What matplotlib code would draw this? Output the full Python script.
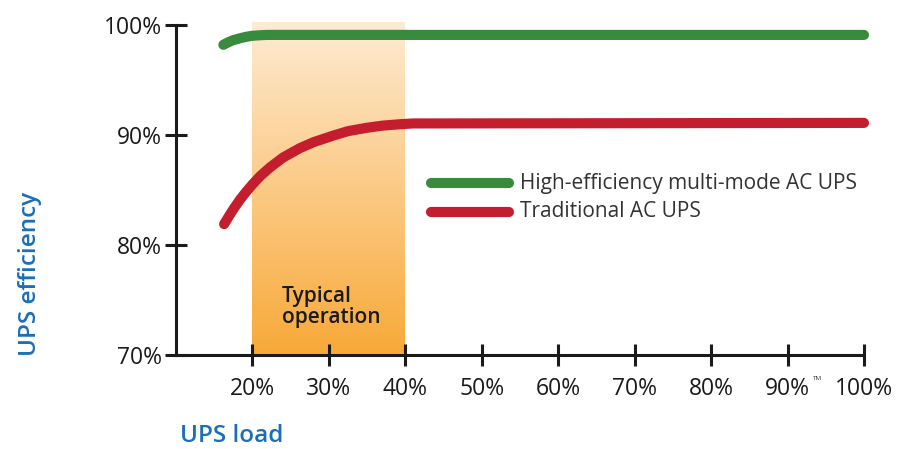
import numpy as np
import matplotlib
matplotlib.use("Agg")
import matplotlib.pyplot as plt
from matplotlib.colors import LinearSegmentedColormap

# Data
green_x = [16.2, 16.8, 17.4, 18.4, 19.2, 20.0, 21.0, 21.9, 25.0, 30.0, 40.0, 100.0]
green_y = [98.2, 98.42, 98.6, 98.8, 98.93, 99.02, 99.07, 99.1, 99.1, 99.1, 99.1, 99.1]
red_x = [16.3, 17.0, 17.7, 18.4, 19.2, 20.0, 21.0, 22.3, 24.0, 26.2, 28.0, 30.6, 32.5,
         34.9, 37.0, 39.3, 41.0, 100.0]
red_y = [81.9, 82.7, 83.45, 84.15, 84.85, 85.5, 86.25, 87.05, 87.95, 88.8, 89.35, 89.95,
         90.35, 90.65, 90.85, 90.98, 91.05, 91.1]
x_ticks = [20, 30, 40, 50, 60, 70, 80, 90, 100]
x_labels = ["20%", "30%", "40%", "50%", "60%", "70%", "80%", "90%", "100%"]
y_ticks = [70, 80, 90, 100]
y_labels = ["70%", "80%", "90%", "100%"]
span = (20, 40)
series_names = ["High-efficiency multi-mode AC UPS", "Traditional AC UPS"]

GREEN = "#388a3c"
RED = "#c41e2e"
BLUE = "#1b6fb8"
FONT = "Open Sans"
LW = 7.3

fig = plt.figure(figsize=(9.01, 4.49), dpi=100)
ax = fig.add_axes([0.1953, 0.2094, 0.7636, 0.7349])
ax.set_xlim(10, 100)
ax.set_ylim(70, 100)

# gradient span
cmap = LinearSegmentedColormap.from_list("org", ["#feebd3", "#f8a938"])
grad = np.linspace(0, 1, 256).reshape(-1, 1)
ax.imshow(grad, cmap=cmap, aspect="auto", extent=[span[0], span[1], 70, 100.25],
          origin="upper", zorder=0, clip_on=False)

ax.plot(green_x, green_y, color=GREEN, lw=LW, solid_capstyle="round",
        solid_joinstyle="round", clip_on=False, zorder=3)
ax.plot(red_x, red_y, color=RED, lw=LW, solid_capstyle="round",
        solid_joinstyle="round", clip_on=False, zorder=3)

for s in ["top", "right"]:
    ax.spines[s].set_visible(False)
for s in ["left", "bottom"]:
    ax.spines[s].set_linewidth(2.2)
    ax.spines[s].set_color("#1a1a1a")
    ax.spines[s].set_zorder(4)

ax.set_xticks(x_ticks)
ax.set_xticklabels(x_labels)
ax.set_yticks(y_ticks)
ax.set_yticklabels(y_labels)
ax.tick_params(axis="both", direction="inout", length=16, width=2.2, color="#1a1a1a",
               labelsize=16.5, labelcolor="#1a1a1a")
ax.tick_params(axis="x", pad=8)
ax.tick_params(axis="y", pad=2)
for lab in ax.get_xticklabels() + ax.get_yticklabels():
    lab.set_fontfamily(FONT)

ax.text(93.3, 67.9, "TM", fontsize=4.5, color="#333333", family=FONT,
        clip_on=False, va="center")

# Typical operation label
ax.text(23.9, 76.3, "Typical\noperation", fontsize=15, color="#1a1a1a", family=FONT,
        fontweight="semibold", linespacing=1.0, va="top", ha="left", zorder=5)

# legend
ax.plot([43.4, 53.5], [85.6, 85.6], color=GREEN, lw=LW, solid_capstyle="round", clip_on=False)
ax.plot([43.4, 53.5], [83.0, 83.0], color=RED, lw=LW, solid_capstyle="round", clip_on=False)
ax.text(55.0, 85.6, series_names[0], fontsize=15, color="#333333", family=FONT, va="center")
ax.text(55.0, 83.0, series_names[1], fontsize=15, color="#333333", family=FONT, va="center")

fig.text(30 / 901, 1 - 274 / 449, "UPS efficiency", rotation=90, fontsize=17.5, color=BLUE,
         fontweight="semibold", family=FONT, ha="center", va="center")
fig.text(232 / 901, 1 - 436 / 449, "UPS load", fontsize=17.5, color=BLUE,
         fontweight="semibold", family=FONT, ha="center", va="center")

fig.savefig("out.png", dpi=100)
